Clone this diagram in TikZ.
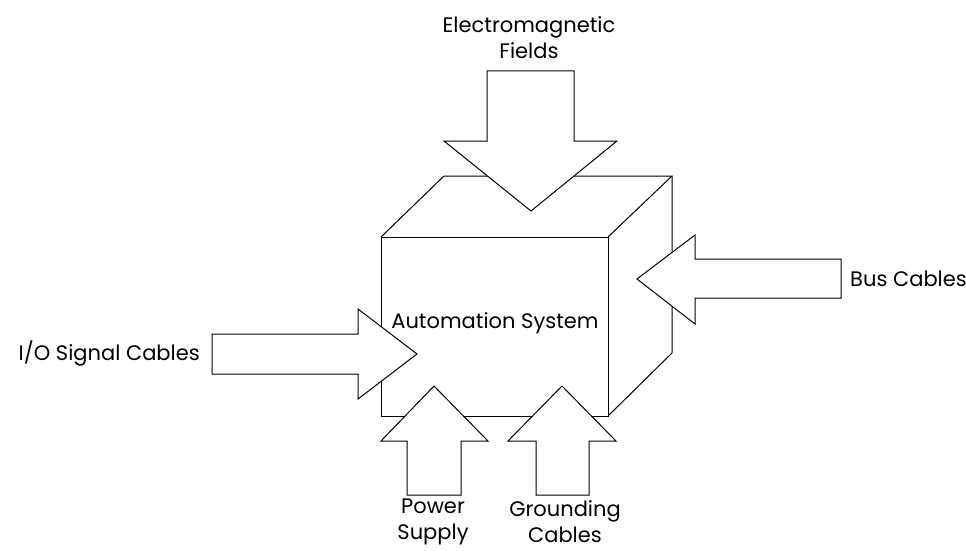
\documentclass[tikz,border=0pt]{standalone}
\usepackage{fontspec}
\setmainfont{Poppins}
\usetikzlibrary{positioning}

\begin{document}
\begin{tikzpicture}[
	x=1pt, y=-1pt,
	% Style for the edges of the box
	edge/.style={
		draw=black,
		line width=1pt,
		line join=miter
	},
	% Style for the big white arrows
	blockarrow/.style={
		draw=black,
		fill=white,
		line width=1pt,
		line join=miter
	},
	% Style for the texts
	caption/.style={
		font=\fontsize{21}{26}\selectfont,
		align=center,
		inner sep=0pt
	}
	]
	\useasboundingbox (0,0) rectangle (966,551);
	
	% Corners of the box
	\coordinate (FTL) at (381,237);
	\coordinate (FTR) at (608,237);
	\coordinate (FBR) at (608,416);
	\coordinate (FBL) at (381,416);
	\coordinate (BTL) at (444,176);
	\coordinate (BTR) at (672,176);
	\coordinate (BBR) at (672,353);
	
	% The box
	\draw[edge] (FTL) rectangle (FBR);
	\draw[edge] (FTL) -- (BTL) -- (BTR) -- (FTR);
	\draw[edge] (BTR) -- (BBR) -- (FBR);
	
	% The arrows, drawn over the box
	\draw[blockarrow] (487,71) -- (574,71) -- (574,141) -- (617,141) -- (531,211) -- (444,141) -- (487,141) -- cycle; % fields
	\draw[blockarrow] (841,259) -- (695,259) -- (695,235) -- (637,279) -- (695,324) -- (695,298) -- (841,298) -- cycle; % bus
	\draw[blockarrow] (212,334) -- (358,334) -- (358,309) -- (417,354) -- (358,399) -- (358,374) -- (212,374) -- cycle; % I/O
	\draw[blockarrow] (407,495) -- (407,441) -- (381,441) -- (434,386) -- (488,441) -- (461,441) -- (461,495) -- cycle; % power
	\draw[blockarrow] (536,495) -- (536,441) -- (508,441) -- (562,386) -- (616,441) -- (589,441) -- (589,495) -- cycle; % grounding
	
	% Texts
	\node[caption] (EMF) at (529,38) {Electromagnetic\\Fields};
	\node[caption, anchor=west] (Bus) at (850,279) {Bus Cables};
	\node[caption, anchor=east] (IO) at (200,353) {I/O Signal Cables};
	\node[caption] (AS) at (495,323) {Automation System};
	\node[caption] (PS) at (433,522) {Power\\Supply};
	\node[caption] (GC) at (565,522) {Grounding\\Cables};
	
\end{tikzpicture}
\end{document}
